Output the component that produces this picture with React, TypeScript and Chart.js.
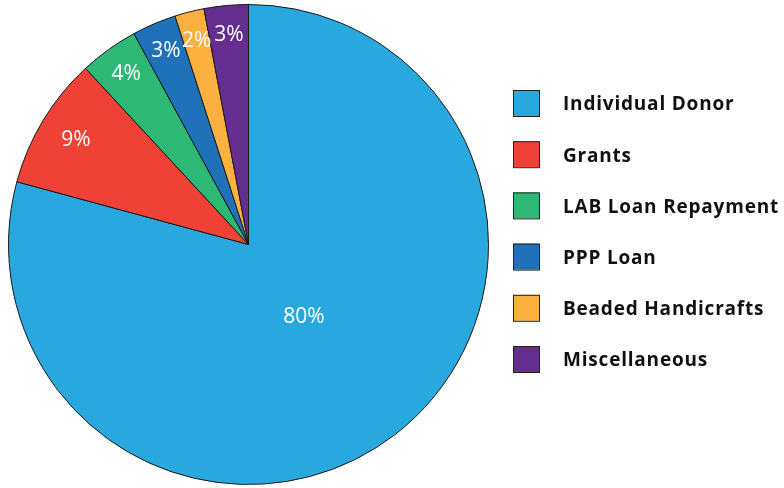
import React, { useEffect, useRef } from "react";
import { Chart, registerables } from "chart.js";

Chart.register(...registerables);

const categories = [
  "Individual Donor",
  "Grants",
  "LAB Loan Repayment",
  "PPP Loan",
  "Beaded Handicrafts",
  "Miscellaneous",
];
const percentValues = [80, 9, 4, 3, 2, 3];
const sliceColors = ["#29A8E0", "#EF4136", "#2DB875", "#1F72BA", "#FBB040", "#662D91"];

const sliceLabelPlugin = {
  id: "sliceLabels",
  afterDatasetsDraw(chart: any) {
    const ctx = chart.ctx;
    const meta = chart.getDatasetMeta(0);
    ctx.save();
    ctx.fillStyle = "#ffffff";
    ctx.font = '21px "Open Sans"';
    ctx.textAlign = "center";
    ctx.textBaseline = "middle";
    meta.data.forEach((arc: any, i: number) => {
      const { x, y, startAngle, endAngle, outerRadius } = arc.getProps(
        ["x", "y", "startAngle", "endAngle", "outerRadius"],
        true
      );
      const span = endAngle - startAngle;
      const mid = (startAngle + endAngle) / 2;
      const r = span > Math.PI ? outerRadius * 0.38 : outerRadius * (span > 0.4 ? 0.84 : 0.875);
      ctx.fillText(percentValues[i] + "%", x + Math.cos(mid) * r, y + Math.sin(mid) * r);
    });
    ctx.restore();
  },
};

const customLegendPlugin = {
  id: "customLegend",
  afterDraw(chart: any) {
    const ctx = chart.ctx;
    const boxX = 513;
    const textX = 563;
    const firstY = 103;
    const step = 51.2;
    const box = 26;
    ctx.save();
    ctx.font = 'bold 19px "Open Sans"';
    try {
      (ctx as any).letterSpacing = "0.8px";
    } catch (e) {}
    ctx.textBaseline = "middle";
    ctx.textAlign = "left";
    categories.forEach((label, i) => {
      const cy = firstY + i * step;
      ctx.fillStyle = sliceColors[i];
      ctx.fillRect(boxX, cy - box / 2, box, box);
      ctx.strokeStyle = "#222";
      ctx.lineWidth = 1;
      ctx.strokeRect(boxX + 0.5, cy - box / 2 + 0.5, box, box);
      ctx.fillStyle = "#111111";
      ctx.fillText(label, textX, cy + 2);
    });
    ctx.restore();
  },
};

export default function App() {
  const canvasRef = useRef<HTMLCanvasElement | null>(null);

  useEffect(() => {
    const canvas = canvasRef.current;
    if (!canvas) return;
    const chart = new Chart(canvas, {
      type: "pie",
      data: {
        labels: categories,
        datasets: [
          {
            data: percentValues,
            backgroundColor: sliceColors,
            borderColor: "#1a1a1a",
            borderWidth: 1,
          },
        ],
      },
      options: {
        animation: false,
        responsive: false,
        maintainAspectRatio: false,
        layout: { padding: { left: 8, right: 295, top: 4, bottom: 3 } },
        plugins: {
          legend: { display: false },
          tooltip: { enabled: false },
        },
      },
      plugins: [sliceLabelPlugin, customLegendPlugin],
    });
    return () => chart.destroy();
  }, []);

  return (
    <div style={{ position: "absolute", left: 0, top: 0, width: 784, height: 488, background: "#fff" }}>
      <canvas ref={canvasRef} width={784} height={488} style={{ width: 784, height: 488 }} />
    </div>
  );
}
